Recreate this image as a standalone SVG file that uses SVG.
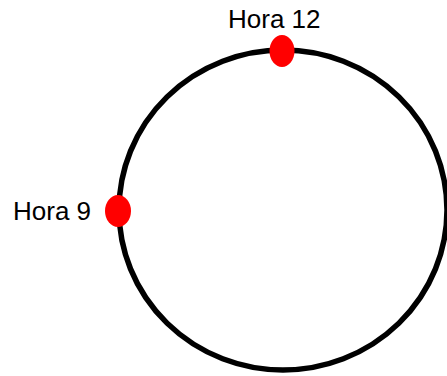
<svg xmlns="http://www.w3.org/2000/svg" width="447" height="376" viewBox="0 0 447 376">
<style>
.lbl{font-family:"Liberation Sans",Arial,sans-serif;font-size:26px;fill:#000}
.dot{fill:#ff0000}
</style>
<rect width="447" height="376" fill="#fff"/>
<g id="connectors">
<ellipse cx="283" cy="210" rx="164" ry="160" fill="none" stroke="#000" stroke-width="5.5"/>
</g>
<g id="hora12">
<ellipse class="dot" cx="282" cy="51" rx="12.5" ry="16"/>
<text class="lbl" x="228" y="28">Hora 12</text>
</g>
<g id="hora9">
<ellipse class="dot" cx="118" cy="211" rx="13" ry="16"/>
<text class="lbl" x="13" y="220">Hora 9</text>
</g>
</svg>
